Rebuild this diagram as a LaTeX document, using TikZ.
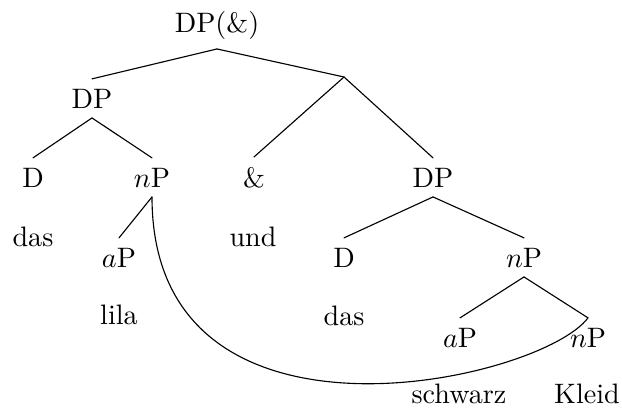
\documentclass[tikz,border=0pt]{standalone}
\usepackage{amsmath}
\usepackage{amssymb}
\usepackage{tikz}

\begin{document}
\begin{tikzpicture}[
			line cap=round,
			line join=round,
			line width=0.4pt,
			Cat/.style={anchor=base,inner sep=0.3333em},
			Word/.style={anchor=base,inner sep=0.3333em}
			]
			
			\useasboundingbox (0,0) rectangle (7.775,-5.1625);
			
			\def\LevelA{-0.40}
			\def\LevelB{-1.35}
			\def\LevelC{-2.3375}
			\def\LevelD{-3.3375}
			\def\LevelE{-4.3375}
			
			% Categories
			\node[Cat] (Top) at (2.7125,\LevelA) {DP(\&)};
			\node[Cat] (DPa) at (1.15,\LevelB) {DP};
			\coordinate (Conj) at (4.30,-0.9625);
			\node[Cat] (Da) at (0.4125,\LevelC) {D};
			\node[Cat] (nPa) at (1.90,\LevelC) {$n$P};
			\node[Cat] (Amp) at (3.175,\LevelC) {\&};
			\node[Cat] (DPb) at (5.4125,\LevelC) {DP};
			\node[Cat] (aPa) at (1.4875,\LevelD) {$a$P};
			\node[Cat] (Db) at (4.30,\LevelD) {D};
			\node[Cat] (nPb) at (6.55,\LevelD) {$n$P};
			\node[Cat] (aPb) at (5.75,\LevelE) {$a$P};
			\node[Cat] (nPc) at (7.35,\LevelE) {$n$P};
			
			% Words
			\node[Word] (WDasA) at (0.4125,-3.075) {das};
			\node[Word] (WUnd) at (3.1625,-3.075) {und};
			\node[Word] (WLila) at (1.4875,-4.05) {lila};
			\node[Word] (WDasB) at (4.30,-4.0625) {das};
			\node[Word] (WSchwarz) at (5.7375,-5.0375) {schwarz};
			\node[Word] (WKleid) at (7.3375,-5.0375) {Kleid};
			
			% Branches
			\draw (Top.south) -- (DPa.north);
			\draw (Top.south) -- (Conj);
			\draw (DPa.south) -- (Da.north);
			\draw (DPa.south) -- (nPa.north);
			\draw (Conj) -- (Amp.north);
			\draw (Conj) -- (DPb.north);
			\draw (nPa.south) -- (aPa.north);
			\draw (DPb.south) -- (Db.north);
			\draw (DPb.south) -- (nPb.north);
			\draw (nPb.south) -- (aPb.north);
			\draw (nPb.south) -- (nPc.north);
			
			% Shared nP
			\draw (nPa.south) .. controls +(0,-3.4) and +(-0.6,-0.8) .. (nPc.north);
			
		\end{tikzpicture}
\end{document}
